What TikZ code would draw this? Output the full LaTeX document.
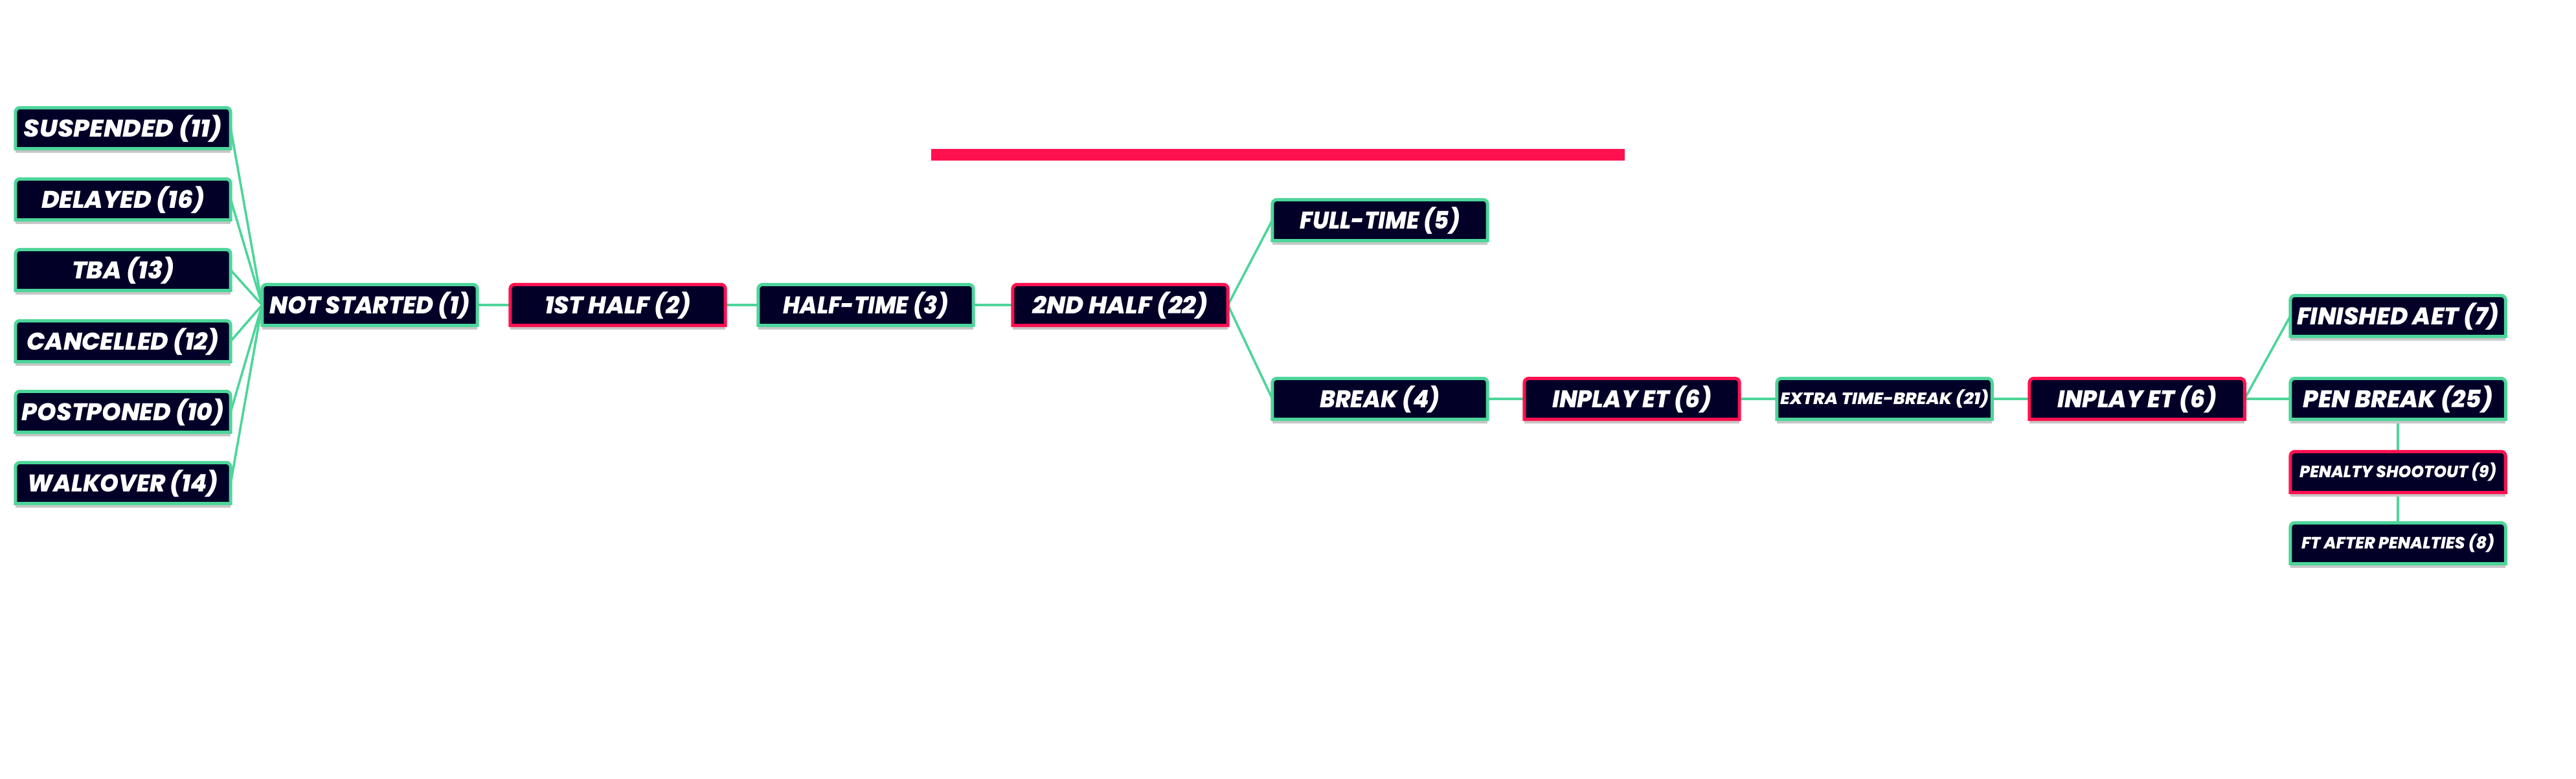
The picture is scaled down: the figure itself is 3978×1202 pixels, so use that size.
\documentclass[tikz,border=0pt]{standalone}
\usepackage{fontspec}
\usepackage{graphicx}
\usetikzlibrary{backgrounds}
\newfontfamily\boxfont{Poppins}[BoldItalicFont={* ExtraBold Italic}]
\definecolor{navy}{RGB}{3,0,40}
\definecolor{pitch}{RGB}{77,213,154}
\definecolor{alert}{RGB}{255,17,80}
\def\lbl#1#2{\resizebox{#1}{\height}{#2}}
\def\statebox(#1)(#2){%
	\fill[black!22] ([yshift=-0.2mm]#1.south west) rectangle ([yshift=-0.6mm]#1.south east);
	\draw[line width=0.5mm, draw=#2, fill=navy] (#1.south west) -- ([yshift=-0.7mm]#1.north west) arc[start angle=180, end angle=90, radius=0.7mm] -- ([xshift=-0.7mm]#1.north east) arc[start angle=90, end angle=0, radius=0.7mm] -- (#1.south east) -- cycle;}

\tikzset{
	state/.style={inner sep=0pt, minimum width=33.1mm, minimum height=6.2mm, text=white, text height=2.6mm, text depth=0pt, font=\boxfont\bfseries\itshape\fontsize{10.6}{12}\selectfont},
	statesmall/.style={state, text height=1.77mm, font=\boxfont\bfseries\itshape\fontsize{7.2}{8}\selectfont},
	link/.style={draw=pitch, line width=0.36mm}
}

\begin{document}
\begin{tikzpicture}[x=0.1mm, y=-0.1mm]
		%%%%% START %%%%%
		\useasboundingbox (0, 0) rectangle (3978, 1202);
		
		\fill[alert] (1438, 230) rectangle (2509, 248);
		
		% waiting states
		\node[state] (susp) at (190, 198) {\lbl{30.6mm}{SUSPENDED (11)}};
		\node[state] (delay) at (190, 308) {\lbl{25.2mm}{DELAYED (16)}};
		\node[state] (tba) at (190, 417) {\lbl{15.8mm}{TBA (13)}};
		\node[state] (canc) at (190, 527) {\lbl{29.7mm}{CANCELLED (12)}};
		\node[state] (postp) at (190, 636) {\lbl{31.2mm}{POSTPONED (10)}};
		\node[state] (walk) at (190, 746) {\lbl{29.4mm}{WALKOVER (14)}};
		
		% normal time
		\node[state] (ns) at (571, 471) {\lbl{30.9mm}{NOT STARTED (1)}};
		\node[state] (first) at (954, 471) {\lbl{22.6mm}{1ST HALF (2)}};
		\node[state] (ht) at (1337, 471) {\lbl{25.5mm}{HALF-TIME (3)}};
		\node[state] (second) at (1730, 471) {\lbl{27.1mm}{2ND HALF (22)}};
		\node[state] (ft) at (2131, 340) {\lbl{24.7mm}{FULL-TIME (5)}};
		
		% extra time
		\node[state] (brk) at (2131, 616) {\lbl{18.5mm}{BREAK (4)}};
		\node[state] (etone) at (2520, 616) {\lbl{24.6mm}{INPLAY ET (6)}};
		\node[statesmall] (etbrk) at (2910, 616) {\lbl{32.2mm}{EXTRA TIME-BREAK (21)}};
		\node[state] (ettwo) at (3300, 616) {\lbl{24.6mm}{INPLAY ET (6)}};
		\node[state] (aet) at (3703, 488) {\lbl{31.2mm}{FINISHED AET (7)}};
		
		% penalties
		\node[state] (penbrk) at (3703, 616) {\lbl{29.3mm}{PEN BREAK (25)}};
		\node[statesmall] (shoot) at (3703, 729) {\lbl{30.4mm}{PENALTY SHOOTOUT (9)}};
		\node[statesmall] (ftpen) at (3703, 839) {\lbl{29.8mm}{FT AFTER PENALTIES (8)}};
		
		\begin{scope}[on background layer]
		\foreach \n in {susp, delay, tba, canc, postp, walk}
			\draw[link] (\n.east) -- (ns.west);
		\draw[link] (ns) -- (first) -- (ht) -- (second);
		\draw[link] (second.east) -- (ft.west);
		\draw[link] (second.east) -- (brk.west);
		\draw[link] (brk) -- (etone) -- (etbrk) -- (ettwo) -- (penbrk);
		\draw[link] (ettwo.east) -- (aet.west);
		\draw[link] (penbrk) -- (shoot) -- (ftpen);
		
		\foreach \n in {susp, delay, tba, canc, postp, walk, ns, ht, ft, brk, etbrk, aet, penbrk, ftpen}
			\statebox(\n)(pitch);
		\foreach \n in {first, second, etone, ettwo, shoot}
			\statebox(\n)(alert);
		\end{scope}
		%%%%% END %%%%%
	\end{tikzpicture}
\end{document}
